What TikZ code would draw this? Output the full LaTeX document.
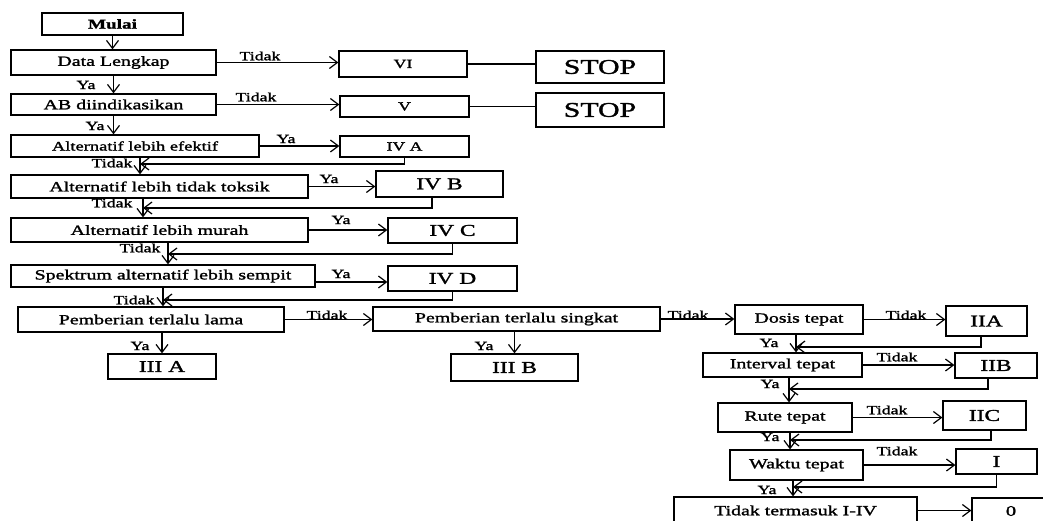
\documentclass[tikz,border=0pt]{standalone}
\usepackage{fontspec}
\setmainfont{Liberation Serif}[FakeStretch=1.42,FakeBold=1.6]
\usetikzlibrary{arrows.meta,calc}
\begin{document}
\begin{tikzpicture}[x=1pt,y=-1pt,
 box/.style={draw,line width=1.2pt,inner sep=0pt,font=\fontsize{14}{15}\selectfont},
 num/.style={box,font=\fontsize{16.5}{18}\selectfont},
 sm/.style={box,font=\fontsize{12.5}{14}\selectfont},
 stopbox/.style={box,font=\fontsize{21}{24}\selectfont},
 lbl/.style={inner sep=0pt,font=\fontsize{12.5}{13}\selectfont},
 arr/.style={line width=1.2pt,-{Straight Barb[length=8pt,width=12pt]}},
 ln/.style={line width=1.2pt}]
\useasboundingbox (0,0) rectangle (1043,521);
% main column
\node[box,minimum width=141pt,minimum height=22pt,font=\bfseries\fontsize{13.5}{15}\selectfont] (mulai) at (112.5,24) {Mulai};
\node[box,minimum width=205pt,minimum height=25pt] (data) at (113.5,62.5) {Data Lengkap};
\node[box,minimum width=205pt,minimum height=21pt] (ab) at (113.5,104.5) {AB diindikasikan};
\node[box,minimum width=248pt,minimum height=22pt,font=\fontsize{13}{15}\selectfont] (efek) at (135,146) {Alternatif lebih efektif};
\node[box,minimum width=297pt,minimum height=23pt] (toks) at (159.5,186.5) {Alternatif lebih tidak toksik};
\node[box,minimum width=297pt,minimum height=24pt] (murah) at (159.5,230) {Alternatif lebih murah};
\node[box,minimum width=304pt,minimum height=22pt] (spek) at (163,276) {Spektrum alternatif lebih sempit};
\node[box,minimum width=266pt,minimum height=25pt] (lama) at (151,319.5) {Pemberian terlalu lama};
\node[num,minimum width=108pt,minimum height=25pt] (iiia) at (162,366.5) {III A};
% right side outcomes
\node[sm,minimum width=128pt,minimum height=26pt] (vi) at (403,64) {VI};
\node[stopbox,minimum width=128pt,minimum height=32pt] (stop1) at (600,67) {STOP};
\node[sm,minimum width=129pt,minimum height=21pt] (v) at (404.5,106.5) {V};
\node[stopbox,minimum width=128pt,minimum height=34pt] (stop2) at (600,110) {STOP};
\node[sm,minimum width=129pt,minimum height=21pt] (iva) at (404.5,146.5) {IV A};
\node[num,minimum width=127pt,minimum height=26pt] (ivb) at (439.5,184) {IV B};
\node[num,minimum width=129pt,minimum height=25pt] (ivc) at (452.5,230.5) {IV C};
\node[num,minimum width=129pt,minimum height=25pt] (ivd) at (452.5,278.5) {IV D};
\node[box,minimum width=287pt,minimum height=24pt] (singkat) at (516.5,319) {Pemberian terlalu singkat};
\node[num,minimum width=127pt,minimum height=27pt] (iiib) at (514.5,367.5) {III B};
% far right column
\node[box,minimum width=128pt,minimum height=29pt] (dosis) at (799,319.5) {Dosis tepat};
\node[num,minimum width=81pt,minimum height=30pt] (iia) at (986.5,321) {IIA};
\node[box,minimum width=159pt,minimum height=24pt] (interval) at (782.5,365) {Interval tepat};
\node[num,minimum width=82pt,minimum height=25pt] (iib) at (996,365.5) {IIB};
\node[box,minimum width=134pt,minimum height=29pt] (rute) at (785,417.5) {Rute tepat};
\node[num,minimum width=83pt,minimum height=29pt] (iic) at (984.5,415.5) {IIC};
\node[box,minimum width=133pt,minimum height=30pt] (waktu) at (796.5,465) {Waktu tepat};
\node[num,minimum width=81pt,minimum height=25pt] (i) at (996.5,461.5) {I};
\node[box,minimum width=243pt,minimum height=27pt] (tt) at (795.5,510.5) {Tidak termasuk I-IV};
\node[box,minimum width=78pt,minimum height=26pt,font=\fontsize{14.5}{16}\selectfont] (zero) at (1011,511) {0};
% merge points
\coordinate (m1) at (140,164);
\coordinate (m2) at (143,208);
\coordinate (m3) at (168,254);
\coordinate (m4) at (163,300);
\coordinate (m5) at (796,347);
\coordinate (m6) at (789,389);
\coordinate (m7) at (790,440);
\coordinate (m8) at (793,487);
% vertical flow
\draw[arr] (mulai.south) -- (mulai.south |- data.north);
\draw[arr] (data.south) -- (data.south |- ab.north);
\draw[arr] (ab.south) -- (ab.south |- efek.north);
\draw[arr] (efek.south -| m1) -- (toks.north -| m1);
\draw[arr] (toks.south -| m2) -- (murah.north -| m2);
\draw[arr] (murah.south -| m3) -- (spek.north -| m3);
\draw[arr] (spek.south -| m4) -- (lama.north -| m4);
\draw[arr] (iiia.north |- lama.south) -- (iiia.north);
\draw[arr] (iiib.north |- singkat.south) -- (iiib.north);
\draw[arr] (dosis.south -| m5) -- (interval.north -| m5);
\draw[arr] (interval.south -| m6) -- (rute.north -| m6);
\draw[arr] (rute.south -| m7) -- (waktu.north -| m7);
\draw[arr] (waktu.south -| m8) -- (tt.north -| m8);
% returns
\draw[arr] (iva.south) |- (m1);
\draw[arr] ($(ivb.south)+(-7.5,0)$) |- (m2);
\draw[arr] (ivc.south) |- (m3);
\draw[arr] (ivd.south) |- (m4);
\draw[arr] ($(iia.south)+(-5.5,0)$) |- (m5);
\draw[arr] ($(iib.south)+(-8,0)$) |- (m6);
\draw[arr] ($(iic.south)+(6.5,0)$) |- (m7);
\draw[arr] (i.south) |- (m8);
% horizontal
\draw[arr] (data.east) -- (vi.west |- data.east);
\draw[ln] (vi.east) -- (stop1.west |- vi.east);
\draw[arr] (ab.east) -- (v.west |- ab.east);
\draw[ln] (v.east) -- (stop2.west |- v.east);
\draw[arr] (efek.east) -- (iva.west |- efek.east);
\draw[arr] (toks.east) -- (ivb.west |- toks.east);
\draw[arr] (murah.east) -- (ivc.west |- murah.east);
\coordinate (s1) at ($(spek.east)+(0,6)$);
\draw[arr] (s1) -- (ivd.west |- s1);
\draw[arr] (lama.east) -- (singkat.west |- lama.east);
\draw[arr] (singkat.east) -- (dosis.west |- singkat.east);
\draw[arr] (dosis.east) -- (iia.west |- dosis.east);
\draw[arr] (interval.east) -- (iib.west |- interval.east);
\draw[arr] (rute.east) -- (iic.west |- rute.east);
\draw[arr] (waktu.east) -- (i.west |- waktu.east);
\draw[arr] (tt.east) -- (zero.west |- tt.east);
% labels
\node[lbl] (l1) at (260,56) {Tidak};
\node[lbl] (l2) at (256,97) {Tidak};
\node[lbl] (l3) at (286,139) {Ya};
\node[lbl] (l4) at (329,179) {Ya};
\node[lbl] (l5) at (341,220) {Ya};
\node[lbl] (l6) at (341,274) {Ya};
\node[lbl] (l7) at (327,315) {Tidak};
\node[lbl] (l8) at (688,315) {Tidak};
\node[lbl] (l9) at (906,315) {Tidak};
\node[lbl] (l10) at (897,357) {Tidak};
\node[lbl] (l11) at (887,410) {Tidak};
\node[lbl] (l12) at (897,451) {Tidak};
\node[lbl] (l13) at (86,85) {Ya};
\node[lbl] (l14) at (95,126) {Ya};
\node[lbl] (l15) at (112,163) {Tidak};
\node[lbl] (l16) at (112,203) {Tidak};
\node[lbl] (l17) at (140,248) {Tidak};
\node[lbl] (l18) at (134,300) {Tidak};
\node[lbl] (l19) at (140,346) {Ya};
\node[lbl] (l20) at (484,346) {Ya};
\node[lbl] (l21) at (769,343) {Ya};
\node[lbl] (l22) at (770,384) {Ya};
\node[lbl] (l23) at (770,437) {Ya};
\node[lbl] (l24) at (767,490) {Ya};
\end{tikzpicture}
\end{document}
